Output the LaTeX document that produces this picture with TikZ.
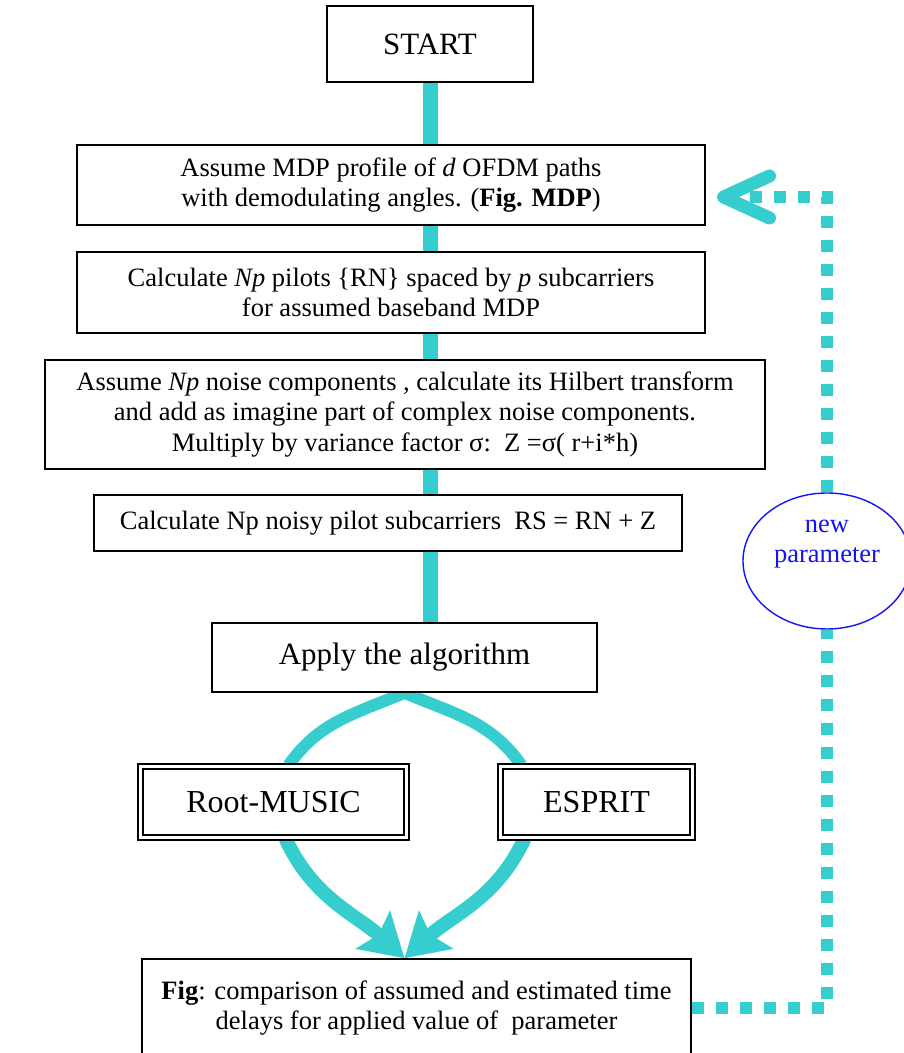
\documentclass[tikz,border=0pt]{standalone}
\usepackage{fontspec}
\setmainfont{Liberation Serif}
\usetikzlibrary{arrows.meta,backgrounds,shapes.geometric}
\definecolor{ink}{HTML}{000000}
\definecolor{aqua}{HTML}{36CDCE}
\definecolor{parblue}{HTML}{1414F0}
\tikzset{
  box/.style={draw=ink, line width=1.6pt, fill=white, inner sep=0pt, align=center,
    font=\fontsize{26.5}{30.5}\selectfont},
  bigbox/.style={box, font=\fontsize{31}{36}\selectfont},
  dbl/.style={draw=ink, line width=2.4pt, double=white, double distance=2.6pt,
    fill=white, inner sep=0pt, font=\fontsize{32}{36}\selectfont},
  oval/.style={ellipse, draw=parblue, line width=1.4pt, fill=white, text=parblue,
    inner sep=0pt, align=center, font=\fontsize{26.5}{30.5}\selectfont},
  trunk/.style={draw=aqua, line width=15pt},
  branch/.style={draw=aqua, line width=12pt},
  down/.style={draw=aqua, line width=14pt, -{Stealth[length=42pt,width=50pt,inset=7pt]}},
  loopline/.style={draw=aqua, line width=12pt, dash pattern=on 12pt off 12pt},
}

\begin{document}
\begin{tikzpicture}[x=1pt,y=1pt]
  \useasboundingbox (0,0) rectangle (903,1053);

  % flow boxes, top to bottom
  \node[bigbox, minimum width=206pt, minimum height=76pt] (start) at (430,1009) {START};
  \node[box, minimum width=628pt, minimum height=80pt] (mdp) at (391,868)
    {Assume MDP profile of \textit{d} OFDM paths\\with demodulating angles. (\textbf{Fig. MDP})};
  \node[box, minimum width=628pt, minimum height=81pt] (pil) at (391,760.5)
    {Calculate \textit{Np} pilots \{RN\} spaced by \textit{p} subcarriers\\for assumed baseband MDP};
  \node[box, minimum width=720pt, minimum height=109pt] (noi) at (405,638.5)
    {Assume \textit{Np} noise components , calculate its Hilbert transform\\and add as imagine part of complex noise components.\\Multiply by variance factor σ:\ \ Z =σ( r+i*h)};
  \node[box, minimum width=588pt, minimum height=56pt] (rs) at (388,530)
    {Calculate Np noisy pilot subcarriers\ \ RS = RN + Z};
  \node[bigbox, minimum width=385pt, minimum height=69pt] (alg) at (404.5,395.5) {Apply the algorithm};

  % the two methods
  \node[dbl, minimum width=266pt, minimum height=71pt] (rm) at (273.5,251) {Root-MUSIC};
  \node[dbl, minimum width=192pt, minimum height=71pt] (es) at (596.5,251) {ESPRIT};

  \node[box, minimum width=549pt, minimum height=98pt] (fin) at (416.5,45)
    {\textbf{Fig}: comparison of assumed and estimated time\\delays for applied value of\ \ parameter};

  \node[oval, minimum width=168pt, minimum height=136pt] (par) at (827,492)
    {new\\parameter\\\strut};
  \coordinate (back) at (717,856);

  \begin{scope}[on background layer]
    \draw[trunk] (start.south) -- (start.south |- alg.north);
    \draw[branch] ([xshift=15pt]rm.north) to[out=55,in=-157] (alg.south)
      to[out=-23,in=125] ([xshift=-75pt]es.north);
    \draw[down] ([xshift=12pt]rm.south) to[out=-65,in=138] (alg.south |- fin.north);
    \draw[down] ([xshift=-72pt]es.south) to[out=-115,in=42] (alg.south |- fin.north);

    % loop back for the next parameter value
    \draw[loopline] (fin.east) -| (par.south);
    \draw[loopline, -{Straight Barb[length=46pt,width=42pt,line width=13pt,round]}]
      (par.north) |- (back);
  \end{scope}
\end{tikzpicture}
\end{document}
